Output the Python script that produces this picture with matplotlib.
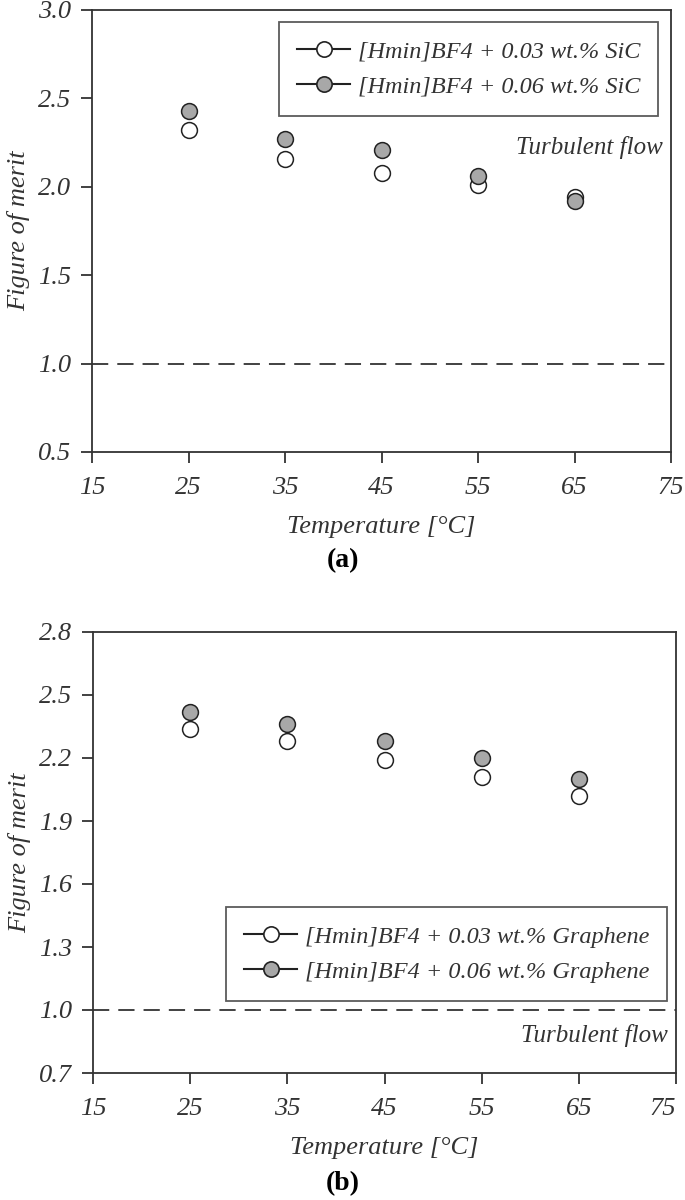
import matplotlib
matplotlib.use("Agg")
import matplotlib.pyplot as plt
from matplotlib.lines import Line2D

temps = [25, 35, 45, 55, 65]
sic_003 = [2.32, 2.16, 2.08, 2.01, 1.94]
sic_006 = [2.43, 2.27, 2.21, 2.06, 1.92]
gr_003 = [2.34, 2.28, 2.19, 2.11, 2.02]
gr_006 = [2.42, 2.36, 2.28, 2.20, 2.10]

labels_a = ["[Hmin]BF4 + 0.03 wt.% SiC", "[Hmin]BF4 + 0.06 wt.% SiC"]
labels_b = ["[Hmin]BF4 + 0.03 wt.% Graphene", "[Hmin]BF4 + 0.06 wt.% Graphene"]
xticks = [15, 25, 35, 45, 55, 65, 75]
yticks_a = [0.5, 1.0, 1.5, 2.0, 2.5, 3.0]
yticks_b = [0.7, 1.0, 1.3, 1.6, 1.9, 2.2, 2.5, 2.8]

FONT = "Liberation Serif"
plt.rcParams['font.family'] = [FONT, 'DejaVu Serif']
TXT = "#333333"
GRAY = "#a8a8a8"
plt.rcParams['axes.edgecolor'] = "#333333"

fig = plt.figure(figsize=(6.85, 12), dpi=100)
ax_a = fig.add_axes([92/685, 1-452/1200, 579/685, 442/1200])
ax_b = fig.add_axes([93/685, 1-1073/1200, 583/685, 441/1200])


def style(ax, yticks, ylim, labels, s1, s2, legend_loc, legend_anchor, turb_xy, last_right):
    ax.scatter(temps, s1, s=130, facecolor="white", edgecolor="#222222", linewidth=1.1, zorder=3)
    ax.scatter(temps, s2, s=130, facecolor=GRAY, edgecolor="#222222", linewidth=1.1, zorder=3)
    ax.axhline(1.0, color="#333333", lw=1.3, ls=(0, (9, 5)), zorder=2)
    ax.set_xlim(15, 75)
    ax.set_ylim(*ylim)
    ax.set_xticks(xticks)
    ax.set_yticks(yticks)
    ax.set_xticklabels([str(t) for t in xticks])
    ax.set_yticklabels([f"{t:.1f}" for t in yticks])
    for lab in ax.get_xticklabels() + ax.get_yticklabels():
        lab.set_fontstyle("italic")
        lab.set_fontsize(19)
        lab.set_color(TXT)
    if last_right:
        ax.xaxis.get_major_ticks()[-1].label1.set_horizontalalignment('right')
    ax.tick_params(axis='both', direction='out', length=8, width=1.3, color="#333333")
    ax.tick_params(axis='x', pad=10)
    ax.tick_params(axis='y', pad=7)
    for sp in ax.spines.values():
        sp.set_linewidth(1.3)
    ax.set_xlabel("Temperature [°C]", fontsize=19, fontstyle="italic", color=TXT, labelpad=12)
    ax.set_ylabel("Figure of merit", fontsize=19, fontstyle="italic", color=TXT, labelpad=6)
    handles = [
        Line2D([], [], color="#222222", lw=1.5, marker="o", markersize=11,
               markerfacecolor="white", markeredgecolor="#222222", markeredgewidth=1.2),
        Line2D([], [], color="#222222", lw=1.5, marker="o", markersize=11,
               markerfacecolor=GRAY, markeredgecolor="#222222", markeredgewidth=1.2),
    ]
    leg = ax.legend(handles, labels, loc=legend_loc, bbox_to_anchor=legend_anchor,
                    prop={'family': FONT, 'style': 'italic', 'size': 17.5},
                    frameon=True, fancybox=False, edgecolor="#333333",
                    handlelength=2.2, handletextpad=0.3, borderpad=0.75, labelspacing=0.55,
                    borderaxespad=0)
    leg.get_frame().set_linewidth(1.3)
    for t in leg.get_texts():
        t.set_color(TXT)
    ax.text(turb_xy[0], turb_xy[1], "Turbulent flow", transform=ax.transAxes,
            ha="right", va="center", fontsize=18, fontstyle="italic", color=TXT)


style(ax_a, yticks_a, (0.5, 3.0), labels_a, sic_003, sic_006,
      "upper right", (0.978, 0.973), (0.985, 0.69), False)
style(ax_b, yticks_b, (0.7, 2.8), labels_b, gr_003, gr_006,
      "lower right", (0.985, 0.163), (0.985, 0.085), True)

fig.text(343/685, 1-561/1200, "(a)", ha="center", va="center", fontsize=20,
         fontweight="bold", color="black")
fig.text(343/685, 1-1184/1200, "(b)", ha="center", va="center", fontsize=20,
         fontweight="bold", color="black")

fig.savefig("out.png", dpi=100)
